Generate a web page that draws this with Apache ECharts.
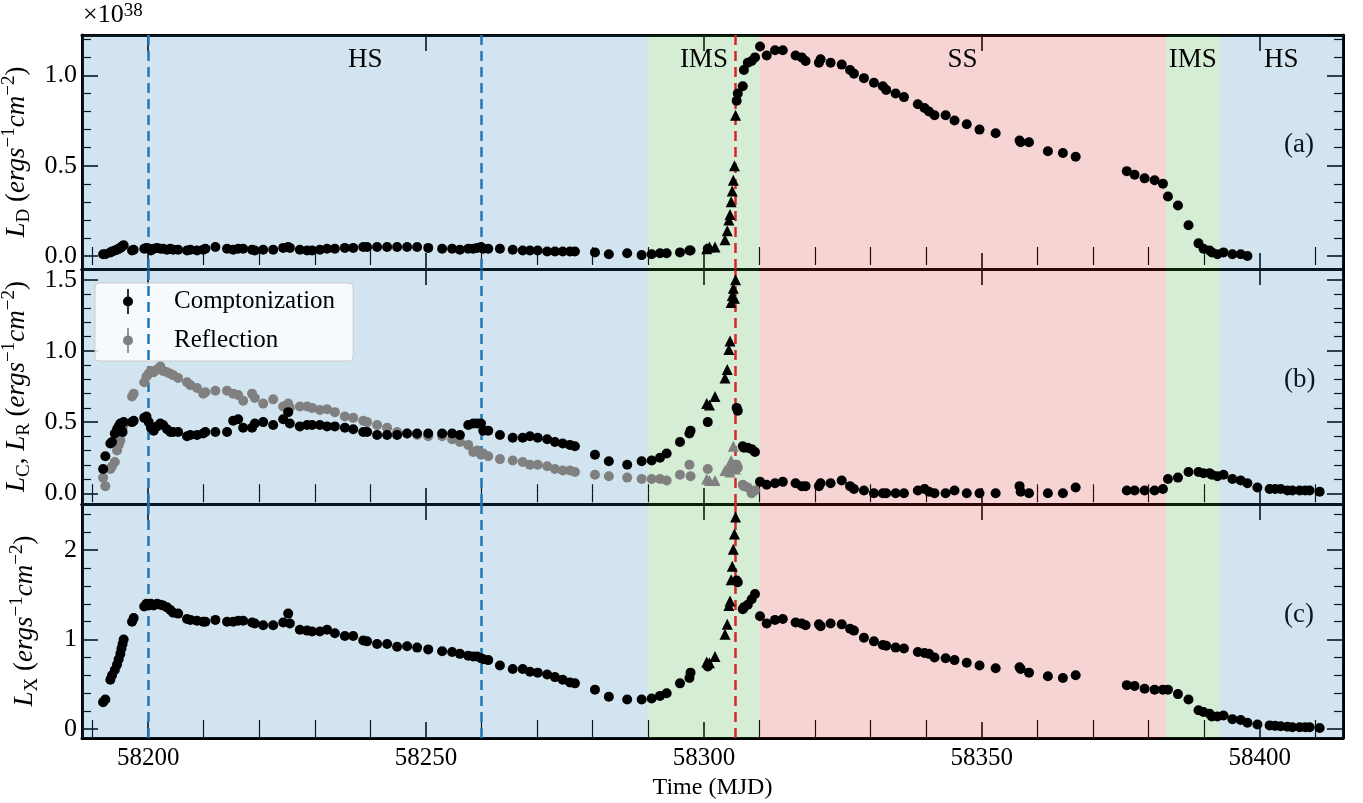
<!DOCTYPE html>
<html><head><meta charset="utf-8">
<script src="https://cdn.jsdelivr.net/npm/echarts@6/dist/echarts.min.js"></script>
<style>html,body{margin:0;padding:0;background:#fff}#c{width:1363px;height:803px}</style>
</head><body><div id="c"></div>
<script>
// ---------------- data ----------------
const mjd = [58191.9,58192.3,58193.2,58193.5,58194.0,58194.4,58194.7,58195.0,58195.2,58195.4,58195.6,58197.1,58197.4,58199.3,58199.7,58200.1,58200.5,58201.0,58201.6,58202.2,58202.7,58203.4,58204.0,58204.5,58205.4,58207.0,58207.6,58208.8,58209.9,58210.3,58212.1,58214.2,58215.3,58216.2,58217.1,58218.7,58219.2,58220.7,58222.5,58224.3,58225.2,58225.5,58227.3,58228.6,58229.5,58230.9,58232.2,58233.6,58235.4,58236.9,58238.7,58239.4,58241.2,58243.0,58244.8,58246.6,58248.4,58250.4,58252.9,58254.7,58256.1,58257.6,58258.5,58259.2,58259.9,58260.3,58261.2,58263.3,58265.6,58267.4,58268.7,58270.1,58271.8,58273.2,58274.6,58275.9,58276.8,58280.4,58282.9,58286.2,58288.8,58290.6,58292.1,58293.3,58295.7,58297.4,58297.6,58300.7,58305.9,58306.1,58307.0,58307.2,58307.9,58308.6,58309.2,58310.1,58311.3,58312.8,58314.2,58316.5,58317.6,58318.3,58320.7,58321.0,58322.8,58324.8,58326.3,58327.0,58328.8,58330.6,58332.2,58332.8,58334.5,58336.0,58338.5,58339.7,58340.5,58341.5,58343.5,58345.1,58347.3,58349.6,58352.5,58356.8,58357.0,58358.5,58361.9,58364.6,58366.9,58376.1,58377.5,58379.3,58381.1,58382.6,58383.5,58385.3,58387.2,58389.0,58389.9,58391.0,58391.4,58392.4,58393.5,58395.1,58396.6,58397.8,58399.6,58401.8,58402.8,58403.8,58405.0,58405.9,58407.2,58408.2,58409.0,58410.8];
// disk luminosity L_D (x1e38)
const ld = [0.01,0.01,0.02,0.025,0.03,0.035,0.04,0.045,0.05,0.055,0.06,0.03,0.035,0.04,0.045,0.04,0.03,0.04,0.045,0.04,0.04,0.035,0.04,0.035,0.035,0.03,0.035,0.03,0.035,0.04,0.05,0.04,0.035,0.04,0.04,0.035,0.03,0.035,0.035,0.045,0.05,0.045,0.035,0.03,0.03,0.035,0.04,0.04,0.045,0.045,0.05,0.05,0.05,0.05,0.05,0.05,0.05,0.045,0.04,0.04,0.035,0.04,0.04,0.045,0.05,0.04,0.04,0.04,0.035,0.03,0.03,0.03,0.025,0.025,0.025,0.025,0.025,0.02,0.01,0.015,0.005,0.01,0.015,0.015,0.02,0.03,0.03,0.04,0.86,0.90,0.94,1.03,1.07,1.08,1.10,1.16,1.11,1.14,1.14,1.11,1.10,1.08,1.07,1.09,1.07,1.06,1.03,1.01,0.985,0.96,0.94,0.92,0.90,0.88,0.84,0.82,0.80,0.78,0.78,0.75,0.73,0.70,0.68,0.64,0.63,0.63,0.58,0.57,0.55,0.47,0.45,0.43,0.42,0.40,0.33,0.28,0.17,0.07,0.04,0.03,0.02,0.01,0.02,0.01,0.01,0.00,null,null,null,null,null,null,null,null,null,null];
// Comptonization L_C
const lc = [0.17,0.26,0.35,0.36,0.42,0.45,0.47,0.49,0.44,0.43,0.50,0.50,0.51,0.53,0.54,0.50,0.46,0.44,0.47,0.49,0.48,0.45,0.43,0.43,0.43,0.40,0.41,0.41,0.42,0.43,0.43,0.43,0.51,0.52,0.46,0.46,0.49,0.50,0.48,0.52,0.57,0.49,0.47,0.48,0.48,0.48,0.47,0.47,0.46,0.45,0.43,0.43,0.41,0.41,0.41,0.42,0.42,0.42,0.42,0.42,0.41,0.48,0.49,0.49,0.49,0.44,0.44,0.41,0.39,0.39,0.40,0.39,0.38,0.36,0.35,0.34,0.33,0.27,0.225,0.20,0.225,0.23,0.25,0.28,0.36,0.42,0.44,0.50,0.60,0.58,0.33,0.32,0.32,0.31,0.29,0.08,0.06,0.07,0.08,0.07,0.05,0.05,0.05,0.07,0.07,0.09,0.05,0.03,0.02,0.00,0.00,0.00,0.00,0.00,0.02,0.03,0.01,0.00,0.00,0.02,0.00,0.00,0.00,0.05,0.01,0.00,0.00,0.00,0.04,0.02,0.02,0.02,0.02,0.03,0.10,0.11,0.15,0.15,0.14,0.14,0.13,0.12,0.13,0.10,0.09,0.07,0.04,0.03,0.03,0.03,0.02,0.02,0.02,0.02,0.02,0.01];
// Reflection L_R
const lr = [0.11,0.05,0.17,0.19,0.22,0.30,0.34,0.37,0.42,0.46,0.48,0.68,0.70,0.78,0.82,0.84,0.86,0.85,0.87,0.89,0.86,0.85,0.84,0.83,0.81,0.78,0.76,0.74,0.70,0.71,0.72,0.72,0.70,0.69,0.65,0.70,0.67,0.63,0.66,0.61,0.63,0.60,0.61,0.61,0.60,0.585,0.59,0.57,0.54,0.53,0.51,0.50,0.48,0.46,0.43,0.42,0.41,0.40,0.40,0.38,0.36,0.34,0.29,0.30,0.27,0.28,0.26,0.24,0.23,0.22,0.20,0.20,0.19,0.17,0.16,0.16,0.15,0.13,0.12,0.11,0.10,0.10,0.10,0.09,0.13,0.20,0.12,0.17,0.20,0.18,0.06,0.05,0.04,0.00,0.02,null,null,null,null,null,null,null,null,null,null,null,null,null,null,null,null,null,null,null,null,null,null,null,null,null,null,null,null,null,null,null,null,null,null,null,null,null,null,null,null,null,null,null,null,null,null,null,null,null,null,null,null,null,null,null,null,null,null,null,null,null];
// total X-ray luminosity L_X
const lx = [0.30,0.33,0.55,0.60,0.66,0.72,0.78,0.84,0.90,0.95,1.00,1.20,1.24,1.37,1.40,1.38,1.40,1.38,1.40,1.39,1.38,1.36,1.33,1.30,1.29,1.23,1.22,1.21,1.20,1.20,1.22,1.20,1.20,1.21,1.21,1.19,1.18,1.16,1.16,1.19,1.29,1.18,1.11,1.10,1.09,1.09,1.11,1.07,1.04,1.04,0.99,0.98,0.95,0.95,0.92,0.925,0.91,0.89,0.87,0.86,0.84,0.82,0.81,0.81,0.79,0.78,0.77,0.71,0.67,0.67,0.64,0.63,0.61,0.58,0.55,0.52,0.51,0.44,0.36,0.33,0.33,0.34,0.37,0.40,0.51,0.57,0.63,0.70,1.66,1.64,1.34,1.36,1.39,1.45,1.51,1.26,1.18,1.22,1.23,1.19,1.18,1.16,1.17,1.15,1.18,1.17,1.12,1.10,1.02,0.98,0.94,0.93,0.91,0.90,0.86,0.85,0.84,0.80,0.79,0.77,0.74,0.71,0.68,0.69,0.67,0.63,0.59,0.57,0.60,0.49,0.48,0.45,0.44,0.44,0.44,0.39,0.33,0.21,0.19,0.17,0.14,0.14,0.15,0.11,0.10,0.07,0.05,0.04,0.035,0.03,0.025,0.02,0.02,0.02,0.02,0.01];
// triangle-marked observations near the transition
const mjdTri = [58300.5,58301.0,58302.0,58303.8,58304.2,58304.5,58304.7,58304.9,58305.1,58305.3,58305.5,58305.7];
const ldTri  = [0.04,0.05,0.05,0.09,0.14,0.20,0.23,0.30,0.36,0.42,0.50,0.78];
const lcTri  = [0.63,0.62,0.68,0.81,0.87,1.01,1.07,1.34,1.39,1.44,1.37,1.50];
const lrTri  = [0.10,0.09,0.09,0.16,0.17,0.18,0.15,0.23,0.19,0.33,0.20,0.17];
const lxTri  = [0.75,0.74,0.81,1.06,1.17,1.38,1.43,1.67,1.82,2.01,2.18,2.37];

// ticks / labels
const xMajorTicks = [58200,58250,58300,58350,58400];
const yMajorA = [0,0.5,1.0], yMajorB = [0,0.5,1.0,1.5], yMajorC = [0,1,2];
const stateNames = ['HS','IMS','SS','IMS','HS'];
const stateEdges = [58188.1,58290,58310,58383.1,58392.8,58415];
const blueLines = [58200,58260];
const redLines = [58305.6];
const panelTags = ['(a)','(b)','(c)'];

// ---------------- layout / style ----------------
const FONT = "'Liberation Serif','DejaVu Serif',serif";
const X_MIN = 58188.1, X_MAX = 58415;
const yRanges = [[-0.072,1.224],[-0.0755,1.576],[-0.101,2.516]];
const grids = [
  {left:82,right:20,top:35,height:234,containLabel:false,outerBoundsMode:'none'},
  {left:82,right:20,top:269,height:235,containLabel:false,outerBoundsMode:'none'},
  {left:82,right:20,top:504,height:234,containLabel:false,outerBoundsMode:'none'}
];
const stateColors = {HS:'rgba(31,119,180,0.2)',IMS:'rgba(44,160,44,0.2)',SS:'rgba(214,39,40,0.2)'};

const xMinorTicks = [];
for (let v = 58190; v <= 58410; v += 10) if (v % 50 !== 0) xMinorTicks.push(v);
function minorList(step, n, majorEvery){ const a=[]; for(let k=1;k<=n;k++){ if(k%majorEvery!==0) a.push(+(k*step).toFixed(2)); } return a; }
const yMinor = [minorList(0.1,12,5), minorList(0.1,15,5), minorList(0.2,12,5)];
const yMajor = [yMajorA,yMajorB,yMajorC];
const yFmt = [v=>v.toFixed(1), v=>v.toFixed(1), v=>String(Math.round(v))];

const rich = {
  i:{fontFamily:FONT,fontStyle:'italic',fontSize:27,color:'#000',lineHeight:34},
  r:{fontFamily:FONT,fontSize:27,color:'#000',lineHeight:34},
  sub:{fontFamily:FONT,fontSize:19,color:'#000',lineHeight:22,verticalAlign:'bottom'},
  sup:{fontFamily:FONT,fontSize:19,color:'#000',lineHeight:22,verticalAlign:'top'}
};
const yNames = [
  '{i|L}{sub|D}{r| (}{i|ergs}{sup|−1}{i|cm}{sup|−2}{r|)}',
  '{i|L}{sub|C}{r|, }{i|L}{sub|R}{r| (}{i|ergs}{sup|−1}{i|cm}{sup|−2}{r|)}',
  '{i|L}{sub|X}{r| (}{i|ergs}{sup|−1}{i|cm}{sup|−2}{r|)}'
];

const majorTickStyle = {color:'#000',width:1.6};
const minorTickStyle = {color:'#000',width:1.2};
const spine = {show:true,onZero:false,lineStyle:{color:'#000',width:3}};

const xAxis = [], yAxis = [];
grids.forEach((g,gi)=>{
  const base = {type:'value',gridIndex:gi,min:X_MIN,max:X_MAX,splitLine:{show:false}};
  const last = gi===2;
  xAxis.push({...base,position:'bottom',axisLine:spine,
    axisTick:{show:true,inside:true,length:16,customValues:xMajorTicks,lineStyle:majorTickStyle},
    axisLabel:{show:last,customValues:xMajorTicks,margin:8,fontFamily:FONT,fontSize:25,color:'#000',formatter:v=>String(v)},
    name:last?'Time (MJD)':'',nameLocation:'middle',nameGap:38,nameTextStyle:{fontFamily:FONT,fontSize:24,color:'#000'}});
  xAxis.push({...base,position:'bottom',axisLine:{show:false},
    axisTick:{show:true,inside:true,length:9,customValues:xMinorTicks,lineStyle:minorTickStyle},axisLabel:{show:false}});
  xAxis.push({...base,position:'top',axisLine:spine,
    axisTick:{show:true,inside:true,length:16,customValues:xMajorTicks,lineStyle:majorTickStyle},axisLabel:{show:false}});
  xAxis.push({...base,position:'top',axisLine:{show:false},
    axisTick:{show:true,inside:true,length:9,customValues:xMinorTicks,lineStyle:minorTickStyle},axisLabel:{show:false}});

  const yb = {type:'value',gridIndex:gi,min:yRanges[gi][0],max:yRanges[gi][1],splitLine:{show:false}};
  yAxis.push({...yb,position:'left',axisLine:spine,
    axisTick:{show:true,inside:true,length:16,customValues:yMajor[gi],lineStyle:majorTickStyle},
    axisLabel:{show:true,customValues:yMajor[gi],margin:5,fontFamily:FONT,fontSize:26,color:'#000',formatter:yFmt[gi]},
    name:yNames[gi],nameLocation:'middle',nameRotate:90,nameGap:40,nameTextStyle:{fontFamily:FONT,fontSize:27,color:'#000',rich:rich}});
  yAxis.push({...yb,position:'left',axisLine:{show:false},
    axisTick:{show:true,inside:true,length:9,customValues:yMinor[gi],lineStyle:minorTickStyle},axisLabel:{show:false}});
  yAxis.push({...yb,position:'right',axisLine:spine,
    axisTick:{show:true,inside:true,length:16,customValues:yMajor[gi],lineStyle:majorTickStyle},axisLabel:{show:false}});
  yAxis.push({...yb,position:'right',axisLine:{show:false},
    axisTick:{show:true,inside:true,length:9,customValues:yMinor[gi],lineStyle:minorTickStyle},axisLabel:{show:false}});
});

function pairs(xs, ys){ const out=[]; xs.forEach((x,i)=>{ if(ys[i]!==null && ys[i]!==undefined) out.push([x,ys[i]]); }); return out; }

const series = [];
grids.forEach((g,gi)=>{
  series.push({type:'scatter',name:'bands'+gi,xAxisIndex:gi*4,yAxisIndex:gi*4,data:[],silent:true,z:1,
    markArea:{silent:true,data:stateNames.map((s,k)=>[
      {name:s,xAxis:stateEdges[k],itemStyle:{color:stateColors[s]},
       label:{show:gi===0,position:'insideTop',distance:11,fontFamily:FONT,fontSize:27,color:'#000'}},
      {xAxis:stateEdges[k+1]}])}});
  series.push({type:'scatter',name:'lines'+gi,xAxisIndex:gi*4,yAxisIndex:gi*4,data:[],silent:true,z:2,
    markLine:{silent:true,symbol:['none','none'],label:{show:false},animation:false,
      lineStyle:{type:[10,6],width:2.5},
      data:[...blueLines.map(v=>({xAxis:v,lineStyle:{color:'#1f77b4',type:[10,6],width:2.5}})),
            ...redLines.map(v=>({xAxis:v,lineStyle:{color:'#d62728',type:[10,6],width:2.5}}))]}});
});
const dot = {symbol:'circle',symbolSize:10};
const tri = {symbol:'triangle',symbolSize:11};
const black = {color:'#000',opacity:1};
const grey = {color:'#808080',opacity:1};
series.push({type:'scatter',name:'Disk',xAxisIndex:0,yAxisIndex:0,z:5,...dot,itemStyle:black,data:pairs(mjd,ld)});
series.push({type:'scatter',name:'Disk tri',xAxisIndex:0,yAxisIndex:0,z:5,...tri,itemStyle:black,data:pairs(mjdTri,ldTri)});
series.push({type:'scatter',name:'Reflection',xAxisIndex:4,yAxisIndex:4,z:5,...dot,itemStyle:grey,data:pairs(mjd,lr)});
series.push({type:'scatter',name:'Reflection tri',xAxisIndex:4,yAxisIndex:4,z:5,...tri,itemStyle:grey,data:pairs(mjdTri,lrTri)});
series.push({type:'scatter',name:'Comptonization',xAxisIndex:4,yAxisIndex:4,z:6,...dot,itemStyle:black,data:pairs(mjd,lc)});
series.push({type:'scatter',name:'Comptonization tri',xAxisIndex:4,yAxisIndex:4,z:6,...tri,itemStyle:black,data:pairs(mjdTri,lcTri)});
series.push({type:'scatter',name:'Total',xAxisIndex:8,yAxisIndex:8,z:5,...dot,itemStyle:black,data:pairs(mjd,lx)});
series.push({type:'scatter',name:'Total tri',xAxisIndex:8,yAxisIndex:8,z:5,...tri,itemStyle:black,data:pairs(mjdTri,lxTri)});

const ebIcon = 'path://M-0.8,-12.5 L0.8,-12.5 L0.8,12.5 L-0.8,12.5 Z M0,-5 A5,5 0 1,1 0,5 A5,5 0 1,1 0,-5 Z';

const tagTops = [131,366,601];
const option = {
  animation:false,
  backgroundColor:'#fff',
  grid:grids,
  xAxis:xAxis,
  yAxis:yAxis,
  legend:{orient:'vertical',left:95,top:283,itemWidth:40,itemHeight:25,itemGap:14,
    padding:[6,18,8,28],backgroundColor:'rgba(255,255,255,0.8)',borderColor:'#cccccc',borderWidth:1,borderRadius:4,
    textStyle:{fontFamily:FONT,fontSize:25,color:'#000',rich:{g:{width:21}}},
    formatter:n=>'{g|\u00a0}'+n,
    data:[{name:'Comptonization',icon:ebIcon},{name:'Reflection',icon:ebIcon}],selectedMode:false},
  graphic:[
    {type:'text',left:83,top:2,style:{text:'×10{s|38}',fontFamily:FONT,fontSize:26,fill:'#000',
      rich:{s:{fontFamily:FONT,fontSize:19,verticalAlign:'top',lineHeight:20}}}},
    ...panelTags.map((t,k)=>({type:'text',left:1284,top:tagTops[k],style:{text:t,fontFamily:FONT,fontSize:27,fill:'#000'}}))
  ],
  series:series
};
const chart = echarts.init(document.getElementById('c'),null,{renderer:'canvas'});
chart.setOption(option);
</script></body></html>
